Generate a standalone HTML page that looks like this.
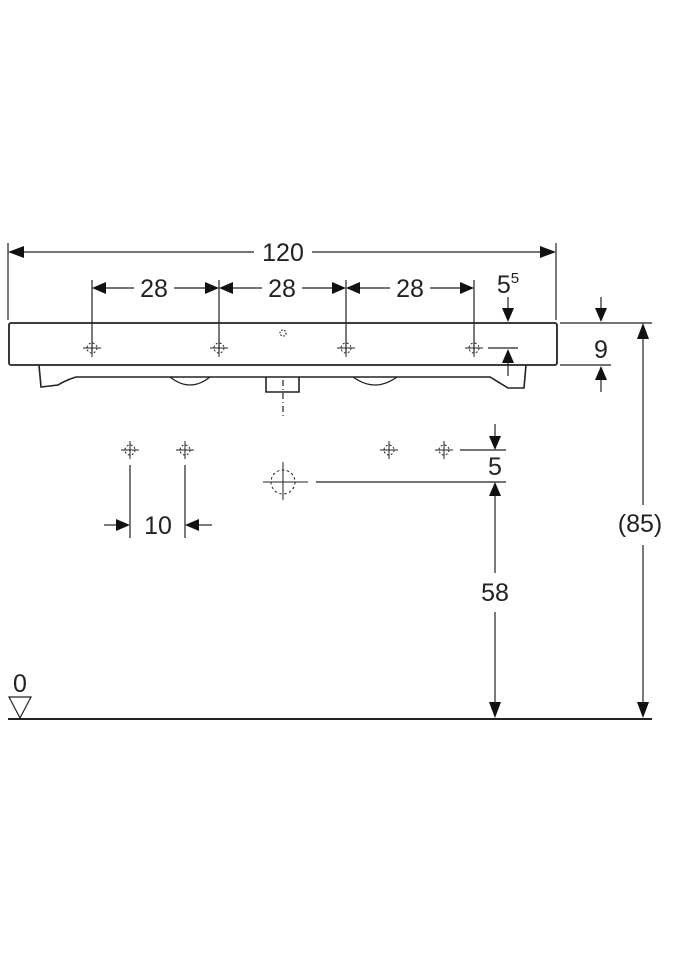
<!DOCTYPE html>
<html><head><style>body{margin:0;background:#fff}svg{display:block}</style></head><body>
<svg width="675" height="960" viewBox="0 0 675 960" xmlns="http://www.w3.org/2000/svg" font-family="Liberation Sans, sans-serif" fill="none" stroke="#222">
<defs>
<g id="ch" stroke-width="1"><line x1="-9" y1="0" x2="9" y2="0"/><line x1="0" y1="-9" x2="0" y2="9"/><circle r="5" stroke-dasharray="2,2"/></g>
</defs>
<g stroke-width="1.2">
<!-- 120 -->
<line x1="8" y1="243" x2="8" y2="320"/><line x1="556" y1="243" x2="556" y2="320"/>
<line x1="20" y1="252" x2="254" y2="252"/><line x1="312" y1="252" x2="544" y2="252"/>
<!-- 28s -->
<line x1="92" y1="280" x2="92" y2="352"/><line x1="219" y1="280" x2="219" y2="352"/><line x1="346" y1="280" x2="346" y2="352"/><line x1="474" y1="280" x2="474" y2="352"/>
<line x1="104" y1="288" x2="134" y2="288"/><line x1="174" y1="288" x2="207" y2="288"/>
<line x1="231" y1="288" x2="262" y2="288"/><line x1="302" y1="288" x2="334" y2="288"/>
<line x1="358" y1="288" x2="390" y2="288"/><line x1="430" y1="288" x2="462" y2="288"/>
</g>
<g fill="#111" stroke="none">
<polygon points="8,252 24,246 24,258"/><polygon points="556,252 540,246 540,258"/>
<polygon points="92,288 106,282 106,294"/><polygon points="219,288 205,282 205,294"/>
<polygon points="219,288 233,282 233,294"/><polygon points="346,288 332,282 332,294"/>
<polygon points="346,288 360,282 360,294"/><polygon points="474,288 460,282 460,294"/>
<polygon points="508,322 502,308 514,308"/><polygon points="508,349 502,363 514,363"/>
<polygon points="601,322 595,308 607,308"/><polygon points="601,366 595,380 607,380"/>
<polygon points="643,323 637,339 649,339"/><polygon points="643,718 637,702 649,702"/>
<polygon points="130,525 116,519 116,531"/><polygon points="185,525 199,519 199,531"/>
<polygon points="495,450 489,436 501,436"/><polygon points="495,482 489,496 501,496"/>
<polygon points="495,718 489,702 501,702"/>
</g>
<g fill="#222" stroke="none" font-size="25" text-anchor="middle">
<text x="283" y="261">120</text>
<text x="154" y="297">28</text><text x="282" y="297">28</text><text x="410" y="297">28</text>
<text x="508" y="293">5<tspan font-size="15" dy="-10">5</tspan></text>
<text x="601" y="358">9</text>
<text x="158" y="534">10</text>
<text x="495" y="475">5</text>
<text x="495" y="601">58</text>
<text x="640" y="532">(85)</text>
<text x="20" y="692">0</text>
</g>
<g stroke-width="1.2">
<!-- basin -->
<rect x="9" y="323" width="548" height="42" rx="2" stroke-width="1.8"/>
<path d="M39,365 L41,387 L58,385 Q66,380 76,377 L490,377 L508,388 L524,388 L526,365" stroke-width="1.6"/>
<path d="M170,377 Q190,393 210,377" /><path d="M353,377 Q375,393 397,377"/>
<path d="M266,377 L266,392 L299,392 L299,377" stroke-width="1.6"/>
<line x1="283" y1="380" x2="283" y2="416" stroke-dasharray="6,3,1,3"/>
<circle cx="283" cy="333" r="3" stroke-dasharray="1.5,1.5"/>
<line x1="508" y1="297" x2="508" y2="308"/><line x1="508" y1="362" x2="508" y2="376"/>
<line x1="488" y1="348" x2="518" y2="348"/>
<line x1="560" y1="323" x2="652" y2="323"/><line x1="560" y1="365" x2="611" y2="365"/>
<line x1="601" y1="297" x2="601" y2="308"/><line x1="601" y1="380" x2="601" y2="392"/>
<line x1="643" y1="338" x2="643" y2="505"/><line x1="643" y1="545" x2="643" y2="704"/>
<!-- lower -->
<line x1="130" y1="465" x2="130" y2="538"/><line x1="185" y1="465" x2="185" y2="538"/>
<line x1="104" y1="525" x2="117" y2="525"/><line x1="198" y1="525" x2="212" y2="525"/>
<line x1="460" y1="450" x2="506" y2="450"/><line x1="316" y1="482" x2="506" y2="482"/>
<line x1="495" y1="424" x2="495" y2="437"/><line x1="495" y1="495" x2="495" y2="573"/><line x1="495" y1="612" x2="495" y2="704"/>
<line x1="8" y1="719" x2="652" y2="719" stroke-width="2"/>
<polygon points="9,697 31,697 20,718"/>
</g>
<use href="#ch" x="92" y="348"/><use href="#ch" x="219" y="348"/><use href="#ch" x="346" y="348"/><use href="#ch" x="474" y="348"/>
<use href="#ch" x="130" y="450"/><use href="#ch" x="185" y="450"/><use href="#ch" x="389" y="450"/><use href="#ch" x="444" y="450"/>
<g stroke-width="1"><line x1="263" y1="482" x2="308" y2="482"/><line x1="283" y1="462" x2="283" y2="500"/><circle cx="283" cy="482" r="12" stroke-dasharray="2.5,2.5"/></g>
</svg>
</body></html>
